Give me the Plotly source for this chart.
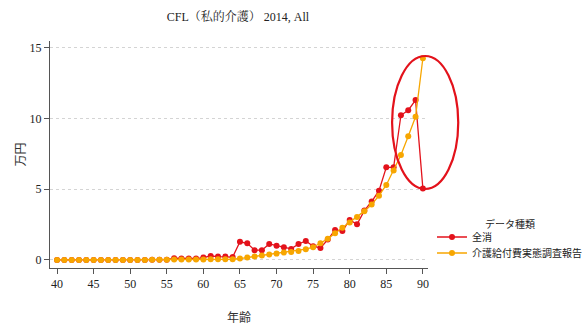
import plotly.graph_objects as go

# ages 40..90
ages = list(range(40, 91))

# 全消 (40..90)
zenshou = [0.0, 0.0, 0.0, 0.0, 0.0, 0.0, 0.0, 0.0, 0.0, 0.0,
           0.0, 0.0, 0.0, 0.02, 0.02, 0.02, 0.12, 0.1, 0.1, 0.1,
           0.17, 0.28, 0.24, 0.24, 0.2, 1.28, 1.18, 0.69, 0.69, 1.13,
           1.01, 0.9, 0.78, 1.13, 1.34, 0.97, 0.85, 1.44, 2.12, 2.05,
           2.83, 2.52, 3.49, 4.13, 4.9, 6.55, 6.55, 10.23, 10.59, 11.3,
           5.05]

# 介護給付費実態調査報告 (40..90)
kaigo = [0.0, 0.0, 0.0, 0.0, 0.0, 0.0, 0.0, 0.0, 0.0, 0.0,
         0.0, 0.0, 0.0, 0.02, 0.02, 0.02, 0.03, 0.03, 0.03, 0.03,
         0.03, 0.04, 0.04, 0.04, 0.05, 0.1, 0.17, 0.24, 0.31, 0.38,
         0.45, 0.52, 0.57, 0.64, 0.76, 0.9, 1.18, 1.49, 1.89, 2.27,
         2.65, 3.03, 3.45, 3.92, 4.54, 5.3, 6.33, 7.42, 8.75, 10.12,
         14.26]

RED = "#e3121b"
ORANGE = "#f7a600"
serif = "Liberation Serif, Noto Serif CJK JP, Noto Sans CJK JP"
cjk = "Noto Sans CJK JP"

fig = go.Figure()
fig.add_trace(go.Scatter(x=ages, y=zenshou, name="全消", mode="lines+markers",
                         line=dict(color=RED, width=1.3), showlegend=True,
                         marker=dict(color=RED, size=6), legend="legend"))
fig.add_trace(go.Scatter(x=ages, y=kaigo, name="介護給付費実態調査報告", mode="lines+markers",
                         line=dict(color=ORANGE, width=1.3), showlegend=True,
                         marker=dict(color=ORANGE, size=6), legend="legend2"))

# red ellipse highlight
fig.add_shape(type="circle", xref="paper", yref="paper",
              x0=0.905, x1=1.08, y0=0.348, y1=0.934,
              line=dict(color=RED, width=2.2))

# legend title
fig.add_annotation(text="データ種類", xref="paper", yref="paper", x=1.217, y=0.198,
                   showarrow=False, xanchor="center", yanchor="middle",
                   font=dict(family=cjk, size=10, color="#222"))

leg = dict(xanchor="left", yanchor="middle", visible=True,
           font=dict(family=cjk, size=10, color="#222"), itemwidth=30,
           bgcolor="rgba(0,0,0,0)")

fig.update_layout(
    width=586, height=325, showlegend=True,
    margin=dict(l=50, r=158, t=41, b=57),
    paper_bgcolor="white", plot_bgcolor="white",
    title=dict(text="CFL（私的介護） 2014, All", x=0.406, xanchor="center",
               y=0.948, yanchor="middle", font=dict(family=serif, size=12, color="#222")),
    xaxis=dict(range=[39.04, 90.7], tickvals=list(range(40, 91, 5)),
               showgrid=False, zeroline=False, showline=True, linecolor="#555",
               ticks="outside", ticklen=5, tickcolor="#555", automargin=False,
               tickfont=dict(family=serif, size=12, color="#222"),
               title=dict(text="年齢", font=dict(family=cjk, size=12, color="#333"), standoff=26)),
    yaxis=dict(range=[-0.57, 15.48], tickvals=[0, 5, 10, 15],
               showgrid=True, gridcolor="#d4d4d4", griddash="dot", zeroline=False,
               showline=True, linecolor="#555", automargin=False,
               ticks="outside", ticklen=5, tickcolor="#555",
               tickfont=dict(family=serif, size=12, color="#222"),
               title=dict(text="万円", font=dict(family=cjk, size=12, color="#333"), standoff=1)),
    legend=dict(leg, xref="container", yref="container", x=0.7372, y=0.2708),
    legend2=dict(leg, xref="container", yref="container", x=0.7372, y=0.2215),
)

fig.write_html("out.html", config={"displayModeBar": False},
               post_script="document.body.style.margin='0';")
